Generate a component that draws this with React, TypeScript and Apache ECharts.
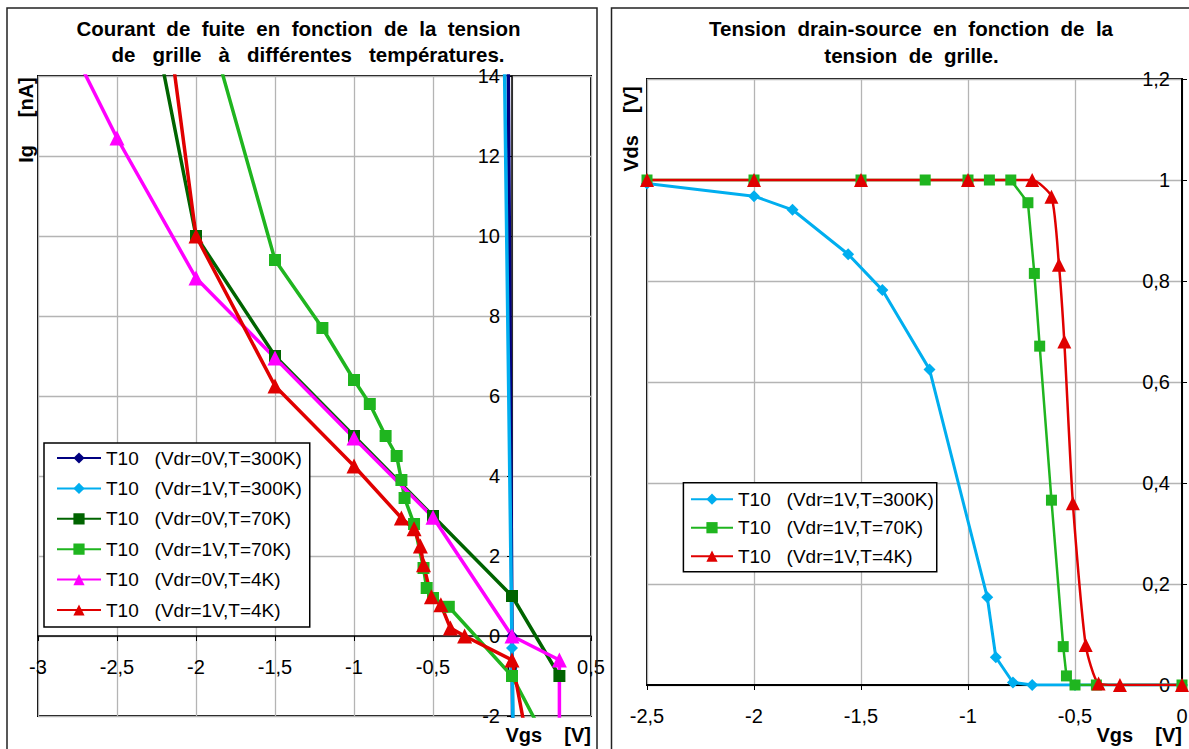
import React, { useEffect, useRef } from 'react';
import * as echarts from 'echarts';

// ---------- names ----------
const leftNames = [
  'T10   (Vdr=0V,T=300K)',
  'T10   (Vdr=1V,T=300K)',
  'T10   (Vdr=0V,T=70K)',
  'T10   (Vdr=1V,T=70K)',
  'T10   (Vdr=0V,T=4K)',
  'T10   (Vdr=1V,T=4K)',
];
const rightNames = [leftNames[1], leftNames[3], leftNames[5]];

// ---------- left chart: Ig [nA] vs Vgs [V] ----------
const igVdr0T300 = [[-0.04, 24], [0, 0], [0.01, -6]];
const igVdr1T300 = [[-0.079, 24], [0, -0.3], [0.01, -3.4]];
const igVdr0T70 = [[-2.5, 20], [-2, 10], [-1.5, 7], [-1, 5], [-0.5, 3], [0, 1], [0.3, -1]];
const igVdr1T70 = [
  [-2.5, 23.4], [-1.5, 9.4], [-1.2, 7.7], [-1, 6.4], [-0.9, 5.8], [-0.8, 5.0], [-0.73, 4.5],
  [-0.7, 3.9], [-0.68, 3.45], [-0.62, 2.8], [-0.56, 1.7], [-0.54, 1.2], [-0.5, 0.95],
  [-0.4, 0.73], [0, -1], [0.2, -2.5],
];
const igVdr0T4 = [
  [-3, 16.4], [-2.5, 12.45], [-2, 8.95], [-1.5, 6.95], [-1, 4.95], [-0.5, 2.97], [0, 0],
  [0.3, -0.6], [0.3, -5],
];
const igVdr1T4 = [
  [-2.5, 25], [-2, 10], [-1.5, 6.25], [-1, 4.25], [-0.7, 2.95], [-0.62, 2.68], [-0.58, 2.25],
  [-0.56, 1.78], [-0.51, 0.98], [-0.45, 0.78], [-0.39, 0.2], [-0.3, 0], [0, -0.6], [0.1, -2.7],
];

// ---------- right chart: Vds [V] vs Vgs [V] ----------
const vdsT300 = [
  [-2.5, 0.993], [-2, 0.968], [-1.82, 0.941], [-1.56, 0.853], [-1.4, 0.782], [-1.18, 0.625],
  [-0.91, 0.174], [-0.87, 0.055], [-0.79, 0.005], [-0.7, 0], [-0.5, 0], [0, 0],
];
const vdsT70 = [
  [-2.5, 1], [-2, 1], [-1.5, 1], [-1.2, 1], [-1, 1], [-0.9, 1], [-0.8, 1], [-0.72, 0.955],
  [-0.69, 0.815], [-0.665, 0.671], [-0.61, 0.366], [-0.555, 0.076], [-0.54, 0.018],
  [-0.5, 0], [-0.4, 0], [0, 0],
];
const vdsT4 = [
  [-2.5, 1], [-2, 1], [-1.5, 1], [-1, 1], [-0.7, 1], [-0.61, 0.967], [-0.575, 0.832],
  [-0.55, 0.68], [-0.51, 0.36], [-0.45, 0.079], [-0.39, 0.003], [-0.29, 0], [0, 0],
];

const FONT = '"Liberation Sans", Arial, sans-serif';
const fmt = (v: number) => String(Math.round(v * 10) / 10).replace('.', ',');

const C = {
  navy: '#000080',
  sky: '#00AEEF',
  dgreen: '#006400',
  lgreen: '#1FB51F',
  magenta: '#FF00FF',
  red: '#E00000',
};

// left plot geometry (pixels) used to place the crossing axes at zero
const L = { left: 38, top: 76, width: 553, height: 640 };
const LX = { min: -3, max: 0.5 };
const LY = { min: -2, max: 14 };

function mk(name: string, data: number[][], color: string, symbol: string, symbolSize: number, width: number, idx: number, smooth: number | boolean = false) {
  return {
    type: 'line',
    name,
    data,
    xAxisIndex: idx,
    yAxisIndex: idx,
    symbol,
    symbolSize,
    showSymbol: true,
    smooth,
    clip: true,
    lineStyle: { color, width },
    itemStyle: { color },
    emphasis: { disabled: true },
  };
}

function txt(text: string, x: number, y: number, align: string, rotation = 0, font = `bold 20px ${FONT}`) {
  return {
    type: 'text',
    x,
    y,
    rotation,
    z: 50,
    style: {
      text,
      font,
      fill: '#000',
      align,
      verticalAlign: 'middle',
      textAlign: align,
      textVerticalAlign: 'middle',
    },
  };
}

export default function App() {
  const ref = useRef<HTMLDivElement>(null);
  useEffect(() => {
    if (!ref.current) return;
    const chart = echarts.init(ref.current, undefined, { renderer: 'svg' });
    const gridLine = { show: true, lineStyle: { color: '#b4b4b4', width: 1.3 } };
    const tick = { fontFamily: FONT, fontSize: 20, color: '#000' };
    const legendText = { fontFamily: FONT, fontSize: 19, color: '#000', lineHeight: 19 };
    // offsets that bring the left axes onto the zero lines
    const xOff = -((0 - LY.min) / (LY.max - LY.min)) * L.height;
    const yOff = -((0 - LX.min) / (LX.max - LX.min)) * L.width;
    const option: any = {
      animation: false,
      backgroundColor: '#fff',
      grid: [
        { ...L, show: true, borderColor: '#000', borderWidth: 2, backgroundColor: '#fff', containLabel: false, outerBoundsMode: 'none' },
        { left: 647, top: 79, width: 535, height: 606, show: true, borderColor: '#000', borderWidth: 2, backgroundColor: '#fff', containLabel: false, outerBoundsMode: 'none' },
      ],
      xAxis: [
        {
          gridIndex: 0, type: 'value', min: LX.min, max: LX.max, interval: 0.5,
          position: 'bottom', offset: xOff,
          axisLine: { onZero: false, lineStyle: { color: '#000', width: 1.5 } },
          axisTick: { show: true, length: 5, lineStyle: { color: '#000' } },
          axisLabel: { ...tick, margin: 21, formatter: fmt },
          splitLine: gridLine,
        },
        {
          gridIndex: 1, type: 'value', min: -2.5, max: 0, interval: 0.5,
          axisLine: { onZero: false, lineStyle: { color: '#000', width: 2 } },
          axisTick: { show: true, length: 5, lineStyle: { color: '#000' } },
          axisLabel: { ...tick, margin: 21, formatter: fmt },
          splitLine: gridLine,
        },
      ],
      yAxis: [
        {
          gridIndex: 0, type: 'value', min: LY.min, max: LY.max, interval: 2,
          position: 'left', offset: yOff,
          axisLine: { onZero: false, lineStyle: { color: '#000', width: 1.5 } },
          axisTick: { show: true, length: 5, lineStyle: { color: '#000' } },
          axisLabel: { ...tick, margin: 12, formatter: fmt },
          splitLine: gridLine,
        },
        {
          gridIndex: 1, type: 'value', min: 0, max: 1.2, interval: 0.2, position: 'right',
          axisLine: { onZero: false, lineStyle: { color: '#000', width: 2 } },
          axisTick: { show: true, length: 5, lineStyle: { color: '#000' } },
          axisLabel: { ...tick, margin: 12, inside: true, formatter: fmt },
          splitLine: gridLine,
        },
      ],
      legend: [
        {
          left: 44, top: 443, orient: 'vertical', data: leftNames,
          itemWidth: 44, itemHeight: 14, itemGap: 11.4,
          padding: [5.5, 8, 7.5, 12],
          backgroundColor: '#fff', borderColor: '#000', borderWidth: 1.5,
          textStyle: legendText, selectedMode: false,
        },
        {
          left: 683.4, top: 482.7, orient: 'vertical', data: rightNames,
          itemWidth: 42, itemHeight: 14, itemGap: 9.5,
          padding: [7, 3, 6, 6.6],
          backgroundColor: '#fff', borderColor: '#000', borderWidth: 1.5,
          textStyle: legendText, selectedMode: false,
        },
      ],
      series: [
        mk(leftNames[0], igVdr0T300, C.navy, 'diamond', 12, 3.5, 0),
        mk(leftNames[1], igVdr1T300, C.sky, 'diamond', 12, 3.5, 0),
        mk(leftNames[2], igVdr0T70, C.dgreen, 'rect', 12, 3.5, 0),
        mk(leftNames[3], igVdr1T70, C.lgreen, 'rect', 12, 3.5, 0),
        mk(leftNames[4], igVdr0T4, C.magenta, 'triangle', 15, 3.5, 0),
        mk(leftNames[5], igVdr1T4, C.red, 'triangle', 15, 3.5, 0),
        mk(rightNames[0], vdsT300, C.sky, 'diamond', 12, 3, 1),
        mk(rightNames[1], vdsT70, C.lgreen, 'rect', 11, 2.5, 1),
        mk(rightNames[2], vdsT4, C.red, 'triangle', 14, 2.5, 1, 0.2),
      ],
      graphic: [
        { type: 'rect', z: 60, shape: { x: 7, y: 8, width: 590, height: 800 }, style: { fill: 'none', stroke: '#222', lineWidth: 1.5 } },
        { type: 'rect', z: 60, shape: { x: 611.5, y: 8, width: 620, height: 800 }, style: { fill: 'none', stroke: '#222', lineWidth: 1.5 } },
        txt('Courant  de  fuite  en  fonction  de  la  tension', 298.5, 28, 'center', 0, `bold 20.5px ${FONT}`),
        txt('de   grille   à   différentes   températures.', 308, 54.5, 'center', 0, `bold 20.5px ${FONT}`),
        txt('Tension  drain-source  en  fonction  de  la', 911, 28, 'center', 0, `bold 20.5px ${FONT}`),
        txt('tension  de  grille.', 911.5, 55, 'center', 0, `bold 20.5px ${FONT}`),
        txt('Ig     [nA]', 26, 120, 'center', Math.PI / 2),
        txt('Vds    [V]', 630.6, 129, 'center', Math.PI / 2),
        txt('Vgs    [V]', 591, 735, 'right'),
        txt('Vgs    [V]', 1182, 735, 'right'),
      ],
    };
    chart.setOption(option);
    return () => chart.dispose();
  }, []);
  return <div ref={ref} style={{ position: 'fixed', left: 0, top: 0, width: 1189, height: 749 }} />;
}
